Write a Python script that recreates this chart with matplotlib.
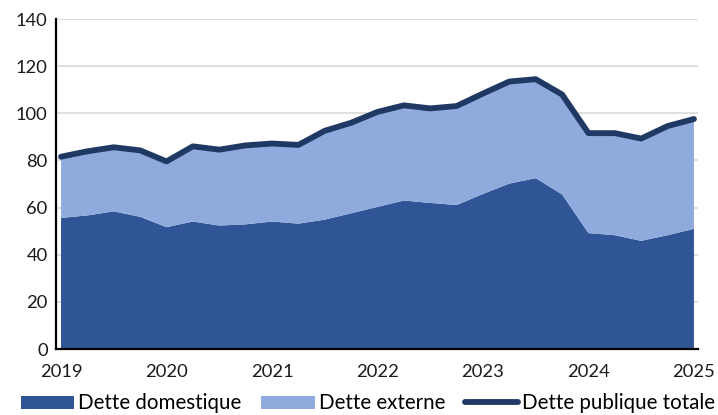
import matplotlib
matplotlib.use("Agg")
import matplotlib.pyplot as plt
import numpy as np

plt.rcParams['font.family'] = ['Lato', 'DejaVu Sans']

year_labels = ["2019", "2020", "2021", "2022", "2023", "2024", "2025"]
# quarterly observations, 2019Q1 .. 2025Q1
domestic = [55.6, 56.7, 58.4, 56.1, 51.7, 54.1, 52.4, 52.9, 54.1, 53.2, 54.9, 57.6,
            60.3, 63.0, 62.0, 61.1, 65.8, 70.2, 72.5, 65.6, 49.2, 48.3, 45.9, 48.3, 51.0]
total = [81.6, 83.9, 85.6, 84.3, 79.6, 86.0, 84.6, 86.4, 87.2, 86.6, 92.6, 96.0,
         100.6, 103.4, 102.1, 103.1, 108.4, 113.5, 114.5, 108.0, 91.6, 91.6, 89.3, 94.6, 97.6]
external = [t - d for t, d in zip(total, domestic)]

c_dom = "#2F5597"
c_ext = "#8FAADC"
c_tot = "#1F3864"

fig = plt.figure(figsize=(7.18, 4.15), dpi=100)
ax = fig.add_axes([0.078, 0.159, 0.894, 0.795])

x = np.arange(len(total))
ax.stackplot(x, domestic, external, colors=[c_dom, c_ext], linewidth=0,
             labels=["Dette domestique", "Dette externe"], zorder=2)
ax.plot(x, total, color=c_tot, lw=4.2, solid_capstyle='round', solid_joinstyle='round',
        label="Dette publique totale", zorder=3)

ax.set_xlim(-0.19, 24.15)
ax.set_ylim(0, 140)
ax.set_yticks(np.arange(0, 141, 20))
ax.set_xticks(np.arange(0, 25, 4))
ax.set_xticklabels(year_labels)
ax.yaxis.grid(True, color="#D9D9D9", lw=1.2, zorder=0)
ax.set_axisbelow(True)
for s in ["top", "right"]:
    ax.spines[s].set_visible(False)
for s in ["left", "bottom"]:
    ax.spines[s].set_linewidth(1.6)
    ax.spines[s].set_color("black")
    ax.spines[s].set_zorder(4)
ax.tick_params(axis='both', length=0, labelsize=13.2, colors="#1a1a1a")
ax.tick_params(axis='x', pad=11)
ax.tick_params(axis='y', pad=6)

h, l = ax.get_legend_handles_labels()
fig.legend(h, l, loc="center", bbox_to_anchor=(0.5125, 0.028), ncol=3, frameon=False,
           fontsize=14.8, handlelength=2.6, handleheight=0.6, handletextpad=0.2,
           columnspacing=0.95, borderaxespad=0)

fig.savefig("out.png", dpi=100)
